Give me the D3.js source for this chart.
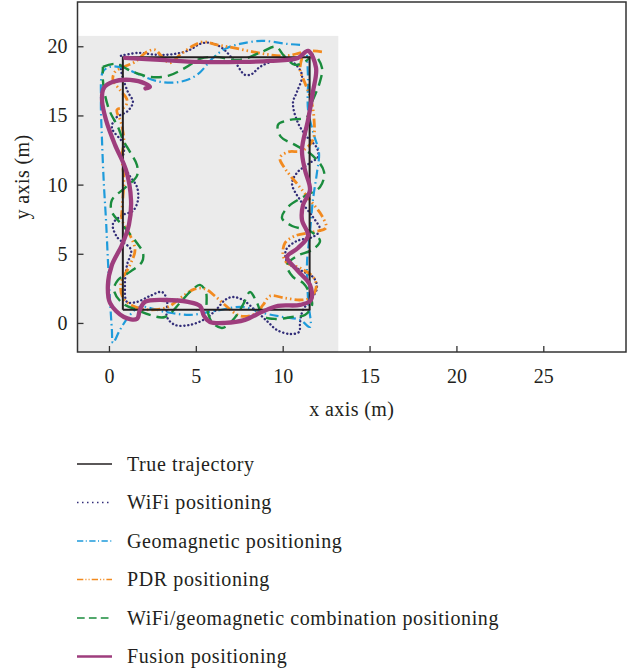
<!DOCTYPE html>
<html>
<head>
<meta charset="utf-8">
<script src="https://cdn.jsdelivr.net/npm/d3@7/dist/d3.min.js"></script>
<style>
  body { margin: 0; background: #fff; }
  text { font-family: "Liberation Serif", "DejaVu Serif", serif; fill: #231f20; }
</style>
</head>
<body>
<svg id="chart" width="630" height="671"></svg>
<script>
// tick values
const xTicks = [0, 5, 10, 15, 20, 25];
const yTicks = [0, 5, 10, 15, 20];

// series labels, in legend order
const seriesNames = ["True trajectory", "WiFi positioning", "Geomagnetic positioning",
  "PDR positioning", "WiFi/geomagnetic combination positioning", "Fusion positioning"];

// trajectories, [x, y] in metres
const truePath = [[0.8, 0.95], [0.8, 19.2], [11.55, 19.2], [11.55, 0.95], [0.8, 0.95]];

const wifiPath = [[0.69, 19.31], [1.67, 19.52], [2.76, 19.38], [3.8, 19.45], [4.66, 19.74], [5.24, 20.17],
  [5.81, 20.25], [6.51, 19.88], [7.25, 18.87], [7.83, 17.93], [8.23, 18.0], [8.69, 18.51], [9.56, 18.94],
  [10.54, 18.87], [11.11, 17.93], [10.82, 16.7], [10.59, 15.91], [10.88, 14.46], [11.4, 13.45], [11.97, 12.65],
  [12.03, 12.0], [11.57, 11.57], [10.82, 10.85], [10.54, 10.05], [11.0, 8.89], [11.74, 7.66], [12.15, 6.72],
  [11.74, 6.22], [10.82, 5.93], [10.19, 5.28], [10.25, 4.41], [11.0, 3.83], [11.8, 3.25], [11.97, 2.53],
  [11.69, 1.81], [11.17, 0.94], [11.0, 0.07], [10.94, -0.65], [10.42, -0.8], [9.67, -0.51], [9.15, 0.07],
  [8.46, 0.87], [7.71, 1.66], [7.14, 1.88], [6.68, 1.66], [6.16, 0.94], [5.53, 0.29], [4.66, -0.14],
  [3.8, -0.14], [3.34, 0.43], [3.34, 1.66], [3.05, 2.24], [2.36, 1.95], [1.61, 1.52], [1.04, 1.52],
  [0.92, 2.75], [1.04, 4.19], [1.27, 5.28], [0.46, 6.22], [0.23, 7.16], [0.81, 7.81], [1.38, 8.1],
  [1.67, 8.89], [1.61, 9.83], [1.09, 10.85], [0.81, 11.79], [0.86, 12.87], [0.17, 14.1], [0.4, 14.82],
  [1.09, 15.33], [1.38, 15.98], [1.09, 16.7], [0.75, 17.93], [0.63, 18.87]];

const geoPath = [[11.0, 20.1], [10.25, 20.17], [8.81, 20.39], [7.54, 20.17], [6.68, 19.81], [5.99, 19.16],
  [5.07, 17.93], [4.09, 17.43], [2.94, 17.43], [1.78, 17.93], [0.81, 18.44], [0.06, 18.51], [-0.35, 18.15],
  [-0.46, 16.12], [-0.4, 13.23], [-0.29, 9.98], [-0.17, 7.45], [-0.06, 4.56], [0.06, 1.66], [0.17, -0.51],
  [0.23, -1.45], [0.63, -0.51], [1.21, 0.58], [1.78, 1.16], [3.22, 0.8], [4.66, 0.58], [6.1, 0.87],
  [7.71, 1.16], [8.87, 0.72], [10.02, 0.43], [11.0, 0.22], [11.57, -0.29], [11.46, 1.66], [11.4, 4.34],
  [11.57, 6.51], [11.74, 8.89], [11.97, 10.85], [12.09, 12.29], [11.8, 13.59], [11.46, 15.4], [11.46, 17.57],
  [11.4, 19.38]];

const pdrPath = [[12.26, 19.6], [11.57, 19.67], [11.0, 19.52], [10.25, 19.31], [9.27, 19.38], [8.29, 19.6],
  [7.2, 19.88], [6.22, 20.1], [5.41, 20.32], [4.84, 20.03], [4.09, 19.38], [3.51, 18.8], [3.11, 19.16],
  [2.65, 19.74], [2.19, 19.6], [1.5, 18.87], [0.86, 18.51], [0.35, 18.15], [0.23, 17.57], [0.63, 16.85],
  [1.04, 16.12], [0.92, 15.62], [0.46, 15.4], [0.69, 14.53], [0.86, 13.23], [0.75, 12.0], [0.86, 10.34],
  [0.75, 8.17], [0.75, 7.45], [1.21, 6.36], [1.5, 5.28], [1.21, 4.19], [0.69, 2.89], [0.81, 1.81],
  [1.5, 1.16], [2.48, 0.94], [3.4, 1.16], [4.2, 1.88], [4.95, 2.46], [5.53, 2.46], [6.1, 1.95], [6.68, 1.3],
  [7.54, 0.51], [8.41, 0.65], [8.87, 1.3], [9.27, 1.95], [10.08, 1.81], [11.0, 1.66], [11.57, 1.81],
  [11.92, 2.53], [11.8, 3.25], [11.0, 3.98], [10.25, 4.34], [10.02, 4.92], [10.13, 5.78], [10.71, 6.29],
  [11.74, 6.58], [12.49, 6.87], [12.26, 7.74], [11.57, 8.89], [10.88, 9.98], [10.19, 11.06], [9.84, 11.93],
  [10.3, 12.36], [11.11, 12.44], [11.74, 13.23], [11.8, 14.82], [11.63, 16.12], [11.28, 17.35], [11.0, 18.29],
  [11.11, 19.16]];

const comboPath = [[-0.35, 18.51], [0.35, 18.73], [1.38, 18.15], [2.36, 17.79], [3.4, 17.86], [4.38, 18.44],
  [5.24, 19.09], [6.1, 19.23], [7.54, 19.02], [8.81, 19.6], [9.61, 19.96], [10.08, 19.31], [10.71, 18.66],
  [11.34, 18.94], [11.8, 19.38], [12.26, 18.44], [12.09, 17.21], [11.74, 16.12], [11.4, 14.9], [10.42, 14.68],
  [9.73, 14.32], [9.9, 13.45], [10.71, 12.87], [11.74, 12.08], [12.38, 10.92], [12.15, 9.83], [11.28, 9.18],
  [10.31, 8.39], [9.96, 7.59], [10.54, 7.01], [11.57, 6.65], [12.15, 5.93], [11.69, 5.28], [10.82, 4.84],
  [10.25, 4.19], [10.59, 3.33], [11.17, 2.89], [11.51, 2.24], [11.69, 1.3], [11.28, 0.58], [10.54, 0.43],
  [9.56, 0.29], [8.87, 0.51], [8.52, 1.45], [8.12, 2.24], [7.71, 1.3], [7.14, 0.22], [6.51, -0.36],
  [5.93, 0.07], [5.64, 1.08], [5.58, 2.24], [5.24, 2.75], [4.66, 2.24], [4.09, 1.45], [3.22, 0.43],
  [2.36, 0.58], [1.61, 0.94], [0.75, 1.45], [0.29, 2.39], [0.52, 3.11], [1.21, 3.69], [1.9, 4.41],
  [1.96, 5.06], [1.61, 5.78], [0.92, 6.87], [0.17, 8.03], [0.17, 8.89], [0.92, 9.76], [1.61, 10.63],
  [1.61, 11.42], [1.21, 12.36], [0.81, 13.23], [0.52, 14.17], [0.06, 15.26], [-0.23, 16.49], [-0.35, 17.57],
  [-0.35, 18.51]];

const fusionPath = [[0.92, 19.16], [2.94, 19.02], [5.24, 18.87], [7.54, 18.87], [9.27, 18.94], [10.88, 19.16],
  [11.46, 19.67], [11.92, 18.44], [11.74, 16.7], [11.46, 14.68], [11.11, 12.51], [11.28, 11.06], [11.57, 9.62],
  [11.17, 8.53], [11.11, 7.45], [11.46, 6.29], [10.88, 5.42], [10.25, 4.77], [10.82, 3.83], [11.57, 2.75],
  [11.63, 1.66], [11.0, 1.3], [9.73, 1.23], [8.81, 0.8], [7.83, 0.22], [6.68, 0.0], [5.81, 0.07], [5.47, 0.51],
  [5.24, 1.23], [4.55, 1.52], [3.22, 1.66], [2.07, 1.52], [1.78, 0.94], [1.61, 0.29], [0.86, 0.43],
  [0.06, 1.45], [-0.06, 2.75], [0.17, 4.19], [0.75, 5.64], [1.15, 7.09], [1.27, 8.89], [0.98, 11.06],
  [0.35, 12.87], [-0.17, 14.68], [-0.4, 16.12], [-0.29, 16.99], [0.23, 17.43], [1.21, 17.57], [2.13, 17.28],
  [2.36, 17.06], [2.1, 16.95]];

const svg = d3.select("#chart");

const mLeft = 77.5, mRight = 626, mTop = 2, mBottom = 352;
const x = d3.scaleLinear().domain([-1.81, 29.76]).range([mLeft, mRight]);
const y = d3.scaleLinear().domain([-2.1, 23.2]).range([mBottom, mTop]);

// grey backdrop behind the tracks
svg.append("rect")
  .attr("x", x(-1.81)).attr("y", y(20.75))
  .attr("width", x(13.2) - x(-1.81)).attr("height", y(-2.1) - y(20.75))
  .attr("fill", "#ebebeb");

const styles = [
  { path: truePath, color: "#231f20", width: 2, dash: null, curve: d3.curveLinear },
  { path: wifiPath, color: "#322d78", width: 2.4, dash: "0.1,3.8", cap: "round", curve: d3.curveCatmullRom },
  { path: geoPath, color: "#1e9bdb", width: 2.2, dash: "9,3.5,1.5,3.5", curve: d3.curveCatmullRom },
  { path: pdrPath, color: "#f28a1f", width: 2.8, dash: "9,3,1.5,3,1.5,3", curve: d3.curveCatmullRom },
  { path: comboPath, color: "#1a8c3d", width: 2.4, dash: "11,6", curve: d3.curveCatmullRom },
  { path: fusionPath, color: "#9e3d7d", width: 4.3, dash: null, cap: "round", curve: d3.curveCatmullRom }
];

const drawOrder = [1, 2, 3, 4, 0, 5];
drawOrder.forEach(i => {
  const s = styles[i];
  const line = d3.line().x(d => x(d[0])).y(d => y(d[1])).curve(s.curve);
  svg.append("path")
    .datum(s.path)
    .attr("d", line)
    .attr("fill", "none")
    .attr("stroke", s.color)
    .attr("stroke-width", s.width)
    .attr("stroke-dasharray", s.dash)
    .attr("stroke-linecap", s.cap || "butt")
    .attr("stroke-linejoin", "round");
});

// frame
svg.append("rect")
  .attr("x", mLeft).attr("y", mTop)
  .attr("width", mRight - mLeft).attr("height", mBottom - mTop)
  .attr("fill", "none").attr("stroke", "#333").attr("stroke-width", 1.5);

const xAxis = svg.append("g")
  .attr("transform", `translate(0,${mBottom})`)
  .call(d3.axisBottom(x).tickValues(xTicks).tickSize(-6).tickPadding(17));
const yAxis = svg.append("g")
  .attr("transform", `translate(${mLeft},0)`)
  .call(d3.axisLeft(y).tickValues(yTicks).tickSize(-6).tickPadding(10));

[xAxis, yAxis].forEach(g => {
  g.select(".domain").remove();
  g.selectAll(".tick line").attr("stroke", "#333").attr("stroke-width", 1.3);
  g.selectAll(".tick text").attr("font-size", 20).attr("font-family", null).attr("fill", "#231f20");
});

svg.append("text")
  .attr("x", (mLeft + mRight) / 2).attr("y", 416)
  .attr("text-anchor", "middle").attr("font-size", 20).attr("letter-spacing", 0.4)
  .text("x axis (m)");

svg.append("text")
  .attr("transform", `translate(29,${(mTop + mBottom) / 2}) rotate(-90)`)
  .attr("text-anchor", "middle").attr("font-size", 20).attr("letter-spacing", 0.4)
  .text("y axis (m)");

// legend
const legend = svg.append("g");
seriesNames.forEach((name, i) => {
  const s = styles[i];
  const ly = 464 + i * 38.5;
  legend.append("line")
    .attr("x1", 77).attr("x2", 112).attr("y1", ly).attr("y2", ly)
    .attr("stroke", s.color)
    .attr("stroke-width", i === 5 ? 2.5 : 1.6)
    .attr("stroke-dasharray", i === 1 ? "1.5,3.5" : s.dash ? s.dash.split(",").map(v => +v * 0.7).join(",") : null);
  legend.append("text")
    .attr("x", 127).attr("y", ly).attr("dy", "0.33em")
    .attr("font-size", 20).attr("letter-spacing", 0.6)
    .text(name);
});
</script>
</body>
</html>
